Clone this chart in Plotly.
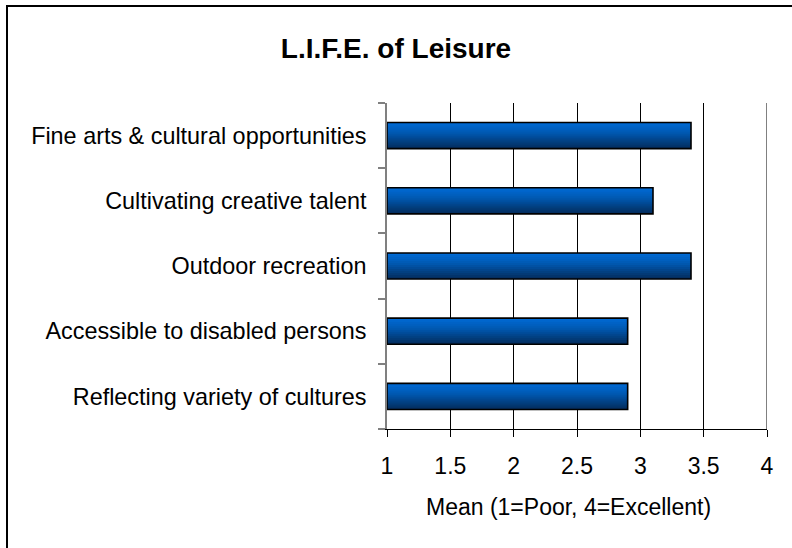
import plotly.graph_objects as go

# Data (bottom to top order on the axis)
categories = [
    "Reflecting variety of cultures",
    "Accessible to disabled persons",
    "Outdoor recreation",
    "Cultivating creative talent",
    "Fine arts & cultural opportunities",
]
means = [2.9, 2.9, 3.4, 3.1, 3.4]
x_ticks = [1, 1.5, 2, 2.5, 3, 3.5, 4]
x_tick_labels = ["1", "1.5", "2", "2.5", "3", "3.5", "4"]

title_text = "<b>L.I.F.E. of Leisure</b>"
x_title = "Mean (1=Poor, 4=Excellent)"

FONT = "Liberation Sans, Arial, sans-serif"
BASE = 1.0
BAR_W = 0.4
X_MAX = x_ticks[-1]

# vertical gradient colours (top -> bottom)
top_rgb = (0, 106, 212)
mid_rgb = (0, 88, 176)
bot_rgb = (4, 46, 96)
N = 13


def lerp(a, b, t):
    return tuple(int(round(a[k] + (b[k] - a[k]) * t)) for k in range(3))


band_colors = []
for i in range(N):
    t = i / (N - 1)
    if t < 0.4:
        c = lerp(top_rgb, mid_rgb, t / 0.4)
    else:
        c = lerp(mid_rgb, bot_rgb, (t - 0.4) / 0.6)
    band_colors.append("rgb(%d,%d,%d)" % c)

lengths = [m - BASE for m in means]

fig = go.Figure()
h = BAR_W / N
# nested bands: drawn bottom (full bar) first, each later band covers the upper part
for i in reversed(range(N)):
    fig.add_trace(go.Bar(
        y=categories, x=lengths, base=BASE, orientation="h",
        offset=BAR_W / 2 - (i + 1) * h, width=(i + 1) * h,
        marker=dict(color=band_colors[i], line=dict(width=0)),
        showlegend=False, hoverinfo="skip",
    ))
# outline
fig.add_trace(go.Bar(
    y=categories, x=lengths, base=BASE, orientation="h",
    offset=-BAR_W / 2, width=BAR_W,
    marker=dict(color="rgba(0,0,0,0)", line=dict(color="black", width=1.6)),
    showlegend=False,
    customdata=means,
    hovertemplate="%{y}: %{customdata}<extra></extra>",
))

L, R, T, B = 387, 25, 103, 119
W, H = 792, 548
pw, ph = W - L - R, H - T - B

fig.update_layout(
    width=W, height=H,
    margin=dict(l=L, r=R, t=T, b=B),
    barmode="overlay",
    paper_bgcolor="white", plot_bgcolor="white",
    font=dict(family=FONT, color="black", size=23),
    title=dict(text=title_text, x=0.5, xanchor="center", xref="container",
               y=1 - 48 / H, yanchor="middle",
               font=dict(family=FONT, size=28, color="black")),
    xaxis=dict(
        range=[1, X_MAX], tickvals=x_ticks, ticktext=x_tick_labels,
        showgrid=True, gridcolor="#000000", gridwidth=1,
        showline=True, linecolor="black", linewidth=1,
        ticks="outside", ticklen=7, tickcolor="black", tickwidth=1,
        zeroline=False, ticklabelstandoff=9,
        tickfont=dict(size=23),
    ),
    yaxis=dict(
        type="category", categoryorder="array", categoryarray=categories,
        showgrid=False, showline=True, linecolor="#808080", linewidth=1.5,
        ticks="outside", tickson="boundaries", ticklen=7,
        tickcolor="#808080", tickwidth=1.5,
        ticklabelstandoff=14, tickfont=dict(size=23.4),
        range=[-0.5, 4.5],
    ),
    annotations=[dict(
        text=x_title, xref="paper", yref="paper", x=0.5, xshift=-9,
        y=-(507 - (H - B)) / ph, xanchor="center", yanchor="middle",
        showarrow=False, font=dict(size=23),
    )],
    shapes=[
        # last grid line at the right edge of the plot area
        dict(type="line", xref="x", yref="paper", x0=X_MAX, x1=X_MAX, y0=0, y1=1,
             line=dict(color="black", width=1), layer="below"),
        # chart border
        dict(type="rect", xref="paper", yref="paper",
             x0=(7 - L) / pw, x1=(W + 20 - L) / pw,
             y0=-(H + 20 - (H - B)) / ph, y1=(H - B - 6) / ph,
             line=dict(color="black", width=2), fillcolor="rgba(0,0,0,0)",
             layer="above"),
    ],
)

fig.write_html(
    "out.html",
    config={"displayModeBar": False},
    post_script="document.body.style.margin='0';"
                "document.documentElement.style.overflow='hidden';",
)
